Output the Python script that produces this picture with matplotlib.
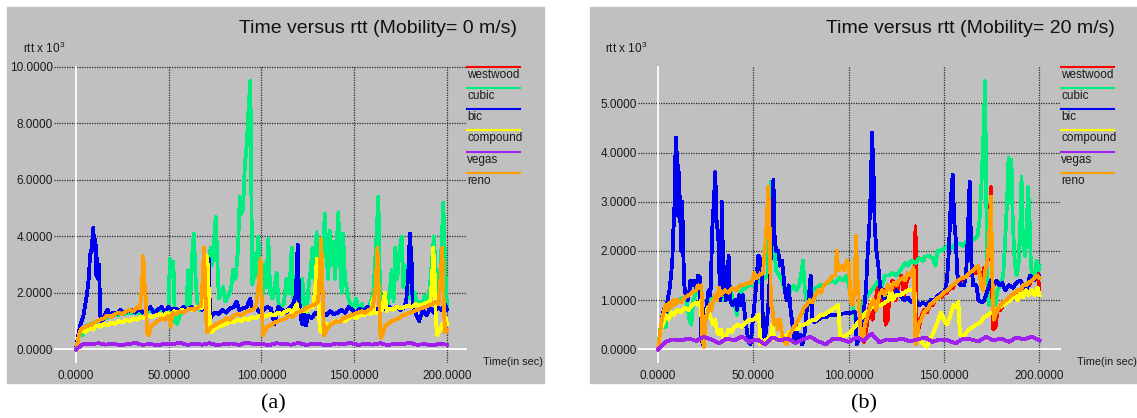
import matplotlib.pyplot as plt
from matplotlib.lines import Line2D
from matplotlib.patches import Rectangle

plt.rcParams['font.family'] = ['Liberation Sans', 'DejaVu Sans']
plt.rcParams['mathtext.fontset'] = 'custom'
plt.rcParams['mathtext.rm'] = 'Liberation Sans'

names = ['westwood', 'cubic', 'bic', 'compound', 'vegas', 'reno']
colors = ['#ff0000', '#00ee80', '#0000f0', '#ffff00', '#a020f0', '#ffa000']

# ---- panel (a): mobility 0 m/s  (time s, rtt x 10^3) ----
cubic_a = [(0, 0.0), (2, 0.6), (3.5, 0.5), (5, 0.8), (8, 0.9), (12, 1.0), (16, 1.1), (20, 1.2),
           (25, 1.25), (30, 1.3), (35, 1.3), (40, 1.35), (45, 1.4), (48, 1.4), (50, 1.3),
           (50.5, 3.2), (51.5, 2.6), (52.5, 3.1), (53.3, 1.0), (54.5, 0.9), (56, 1.2), (58, 1.4),
           (59.5, 1.5), (60.5, 2.8), (61.5, 1.6), (62.5, 3.2), (63.5, 4.1), (64.5, 2.5), (65.5, 1.6),
           (67, 1.4), (69, 1.5), (70.5, 1.4), (71.5, 2.5), (72.5, 3.6), (73.5, 3.0), (74.5, 3.8),
           (75.3, 4.7), (76, 3.5), (77, 1.8), (78.5, 2.0), (79.3, 2.2), (80.5, 1.7), (82, 1.9),
           (83.5, 2.1), (84.7, 2.8), (86, 2.5), (87.3, 3.5), (88.3, 5.4), (89.2, 4.8), (90.1, 5.0),
           (91, 6.5), (92, 7.2), (93, 8.5), (94, 9.5), (95, 2.3), (96, 2.6), (96.8, 3.4), (97.5, 2.6),
           (98.3, 4.0), (99.3, 2.5), (100.5, 1.8), (101.5, 3.0), (102.5, 2.2), (103.7, 3.9),
           (104.7, 2.0), (106, 1.8), (107, 2.2), (108.2, 2.7), (109.2, 1.6), (110.5, 1.5), (112, 1.6),
           (113.5, 2.5), (115, 2.0), (116.3, 3.6), (117.3, 1.6), (119, 1.7), (120.5, 1.5), (122, 2.5),
           (123, 1.6), (124.4, 1.3), (125.5, 2.3), (126.5, 2.8), (127.5, 3.6), (128.5, 2.5),
           (129.7, 4.15), (130.5, 3.0), (131.5, 3.6), (132.5, 2.6), (133.5, 4.0), (134.2, 4.8),
           (135, 3.3), (136, 2.5), (136.9, 4.2), (137.8, 3.0), (138.8, 3.8), (139.6, 2.5), (140.5, 3.6),
           (141.4, 4.85), (142.2, 3.3), (143.2, 2.0), (144, 4.1), (145, 2.5), (145.9, 2.2), (147, 1.8),
           (148, 1.6), (149.5, 1.5), (151, 1.8), (152.5, 1.4), (154, 1.6), (156, 1.3), (158, 1.5),
           (159.5, 1.8), (160.3, 2.0), (161.2, 3.0), (162, 4.0), (163, 5.4), (163.9, 2.0), (165, 1.8),
           (166.5, 1.5), (167.5, 1.4), (169, 2.0), (170.2, 2.8), (171.2, 1.7), (172.1, 3.6),
           (173.2, 2.5), (174.4, 3.5), (175.6, 4.0), (176.5, 2.2), (177.3, 3.0), (178.3, 2.5),
           (179.5, 1.8), (181, 2.1), (182.6, 2.0), (183.7, 1.6), (185, 1.7), (186.5, 1.5), (188, 1.9),
           (189.5, 1.6), (190.8, 2.2), (191.7, 3.0), (193, 4.0), (194, 2.5), (195, 2.8), (196, 2.0),
           (197.3, 4.0), (198, 5.2), (199, 3.0), (200, 1.5)]
bic_a = [(0, 0.0), (1.5, 0.6), (2.5, 0.9), (4, 1.2), (5, 1.6), (6, 2.0), (7, 2.6), (7.5, 3.3),
         (8.5, 3.6), (9.3, 4.3), (10, 3.5), (10.5, 3.9), (11, 2.6), (11.5, 3.2), (12, 2.5), (12.5, 3.0),
         (13, 1.2), (14, 1.0), (15.5, 1.2), (17, 1.4), (18, 1.2), (20, 1.3), (22, 1.25), (24, 1.4),
         (26, 1.3), (28, 1.35), (30, 1.4), (32, 1.3), (34, 1.45), (36, 1.3), (38, 1.4), (40, 1.5),
         (42, 1.3), (44, 1.4), (46, 1.5), (48, 1.35), (50, 1.5), (52, 1.4), (54, 1.45), (56, 1.35),
         (58, 1.5), (60, 1.4), (62, 1.5), (64, 1.45), (66, 1.5), (68, 1.4), (69.5, 1.6), (70.3, 3.3),
         (71.5, 3.2), (72.3, 1.1), (73.5, 1.2), (75, 1.3), (77, 1.25), (79, 1.4), (81, 1.3),
         (83, 1.45), (85, 1.5), (86.5, 1.7), (88, 1.4), (90, 1.45), (92, 1.5), (94, 1.8), (95, 1.4),
         (97, 1.5), (99, 1.3), (101, 1.4), (103, 1.5), (105, 1.45), (107, 0.9), (108, 1.2),
         (109, 1.5), (111, 1.4), (113, 1.3), (115, 1.45), (117, 1.6), (118.5, 1.9), (119.5, 3.7),
         (120.3, 1.8), (121, 1.2), (122, 0.9), (123, 1.3), (124, 0.85), (125, 1.2), (127, 1.1),
         (129, 1.3), (131, 1.2), (133, 1.3), (135, 1.2), (137, 1.35), (139, 1.25), (141, 1.3),
         (143, 1.4), (145, 1.3), (147, 1.5), (149, 1.4), (151, 1.3), (153, 1.45), (155, 1.35),
         (157, 1.5), (159, 1.4), (161, 1.3), (163, 1.45), (165, 1.4), (166, 1.8), (167, 1.4),
         (169, 1.5), (171, 1.4), (173, 1.5), (175, 1.4), (177, 1.5), (178, 1.7), (179, 2.5),
         (180, 4.1), (181, 3.0), (181.5, 1.5), (183, 1.3), (185, 1.0), (187, 1.4), (189, 1.2),
         (191, 1.5), (193, 1.3), (195, 1.5), (197, 1.4), (199, 1.6), (200, 1.4)]
compound_a = [(0, 0.0), (1.5, 0.5), (3, 0.7), (5, 0.6), (7, 0.75), (9, 0.7), (11, 0.85), (13, 0.8),
              (15, 0.9), (17, 0.85), (19, 0.95), (21, 0.9), (23, 1.0), (25, 0.95), (27, 1.05),
              (29, 1.0), (31, 1.1), (33, 1.05), (35, 1.15), (37, 1.1), (39, 1.2), (41, 1.15),
              (43, 1.2), (45, 1.25), (47, 1.2), (49, 1.3), (51, 1.25), (53, 1.35), (55, 1.3),
              (57, 1.4), (59, 1.35), (61, 1.45), (63, 1.4), (65, 1.5), (67, 1.45), (69, 1.5),
              (70, 1.9), (70.8, 3.3), (71.5, 2.2), (72.3, 0.7), (73, 0.6), (75, 0.75), (77, 0.8),
              (79, 0.85), (81, 0.9), (83, 1.0), (85, 0.95), (87, 1.05), (89, 1.0), (91, 1.1),
              (93, 1.05), (95, 1.15), (97, 1.1), (99, 1.2), (101, 1.15), (103, 1.2), (105, 1.25),
              (107, 1.2), (109, 1.3), (111, 1.25), (113, 1.35), (115, 1.4), (117, 1.3), (119, 1.6),
              (120, 1.3), (122, 1.4), (124, 1.35), (126, 1.5), (128, 1.5), (129, 2.2), (129.8, 3.2),
              (130.6, 2.0), (131.4, 0.7), (132.5, 0.6), (134, 0.8), (135, 0.9), (137, 0.85),
              (139, 1.0), (141, 0.95), (143, 1.05), (145, 1.0), (147, 1.1), (149, 1.2), (151, 1.1),
              (153, 1.25), (155, 1.2), (157, 1.3), (159, 1.25), (160, 1.8), (161, 1.3), (163, 1.3),
              (165, 1.4), (166.5, 2.0), (167.5, 1.35), (169, 1.45), (171, 1.4), (173, 1.5),
              (175, 1.45), (177, 1.5), (179, 1.55), (181, 1.5), (183, 1.6), (185, 1.55), (187, 1.6),
              (189, 1.65), (191, 1.7), (192, 2.6), (192.6, 3.6), (193.3, 2.8), (194, 1.0),
              (194.8, 0.5), (196, 0.7), (197.5, 0.9), (198.5, 0.7), (199.5, 1.1), (200, 0.9)]
vegas_a_t = list(range(0, 201, 4))
vegas_a = [0.0, 0.2, 0.18, 0.22, 0.17, 0.2, 0.15, 0.19, 0.23, 0.16, 0.2, 0.14, 0.21, 0.18, 0.24,
           0.16, 0.2, 0.17, 0.22, 0.15, 0.19, 0.21, 0.16, 0.25, 0.18, 0.2, 0.15, 0.22, 0.19, 0.17,
           0.23, 0.16, 0.2, 0.18, 0.14, 0.21, 0.19, 0.23, 0.16, 0.2, 0.17, 0.22, 0.15, 0.2, 0.18,
           0.24, 0.16, 0.19, 0.14, 0.2, 0.17]
reno_a = [(0, 0.0), (1, 0.3), (2, 0.6), (3, 0.75), (5, 0.8), (7, 0.85), (9, 0.9), (11, 1.0),
          (13, 1.05), (15, 1.1), (17, 1.2), (19, 1.15), (21, 1.25), (23, 1.3), (25, 1.25), (27, 1.35),
          (29, 1.4), (31, 1.35), (33, 1.5), (34.5, 1.45), (35.5, 2.2), (36.3, 3.3), (37, 2.3),
          (37.6, 1.8), (38.3, 0.6), (39.2, 0.5), (40.5, 0.8), (42, 0.9), (44, 1.0), (46, 1.1),
          (48, 1.05), (50, 1.2), (51, 0.8), (52, 1.3), (54, 1.25), (56, 1.35), (58, 1.3), (60, 1.4),
          (62, 1.45), (64, 1.4), (66, 1.5), (67.5, 1.55), (68.3, 2.5), (69, 3.6), (69.8, 2.0),
          (70.5, 0.6), (71.5, 0.65), (73, 0.8), (75, 0.85), (77, 0.95), (79, 1.0), (81, 1.1),
          (83, 1.05), (85, 1.2), (87, 1.25), (89, 1.2), (91, 1.3), (93, 1.35), (95, 1.4), (97, 1.5),
          (98.5, 2.3), (99.5, 3.2), (100.2, 1.6), (100.8, 0.5), (101.5, 0.6), (103, 0.8),
          (105, 0.85), (107, 0.95), (109, 1.0), (111, 1.05), (113, 1.1), (115, 1.2), (117, 1.15),
          (119, 1.3), (121, 1.35), (123, 1.4), (125, 1.5), (127, 1.55), (129, 1.6), (130.5, 1.7),
          (131.5, 2.8), (132.2, 3.9), (133, 2.0), (133.7, 0.5), (134.5, 0.6), (136, 0.8), (138, 0.9),
          (140, 1.0), (142, 0.95), (144, 1.1), (146, 1.15), (148, 1.2), (150, 1.25), (152, 1.3),
          (154, 1.35), (156, 1.3), (158, 1.4), (160, 1.5), (161.5, 2.2), (162.5, 3.6), (163.3, 2.0),
          (164.2, 0.4), (165.2, 0.5), (166.5, 0.8), (168, 0.9), (170, 1.0), (172, 1.05), (174, 1.1),
          (176, 1.2), (178, 1.25), (180, 1.3), (182, 1.35), (184, 1.4), (186, 1.45), (188, 1.5),
          (190, 1.55), (192, 1.6), (194, 1.7), (195.5, 1.6), (196.5, 2.5), (197.5, 3.6), (198.3, 1.5),
          (199, 0.6), (200, 0.7)]
# westwood is never visible in (a): it runs underneath the reno trace
westwood_a = list(reno_a)

# ---- panel (b): mobility 20 m/s ----
cubic_b = [(0, 0.0), (1.5, 0.5), (3, 0.6), (4, 0.45), (5, 0.8), (7, 0.9), (9, 0.95), (11, 1.0),
           (13, 1.05), (15, 1.0), (16.5, 0.6), (17.5, 0.5), (18.5, 1.0), (20, 1.15), (22, 1.2),
           (22.8, 0.5), (24, 0.4), (25.5, 0.8), (27, 1.1), (28.5, 1.0), (30, 1.05), (32, 1.1),
           (34, 1.0), (36, 1.1), (38, 1.2), (40, 0.9), (41.5, 0.7), (42.5, 1.1), (44, 1.2),
           (46, 1.25), (48, 1.3), (50, 1.3), (52, 1.35), (54, 1.4), (56, 1.45), (57.5, 1.5),
           (58.3, 2.5), (59, 3.4), (59.8, 2.2), (61, 2.0), (62, 1.6), (63.5, 1.5), (65, 1.4),
           (66.5, 1.2), (68, 1.0), (69.5, 1.2), (71, 1.3), (72.5, 1.2), (74, 1.3), (75, 1.5),
           (76, 1.8), (77, 1.2), (78, 1.0), (79.5, 1.0), (81, 1.2), (83, 1.25), (85, 1.3), (87, 1.3),
           (89, 1.35), (91, 1.4), (93, 1.35), (95, 1.45), (97, 1.4), (99, 1.5), (100.5, 1.2),
           (102, 0.9), (103.5, 0.6), (105, 0.5), (106.5, 0.8), (108, 1.0), (110, 1.1), (112, 1.2),
           (114, 1.3), (115.7, 1.4), (117.5, 1.3), (119, 1.5), (121, 1.5), (123, 1.55), (125, 1.5),
           (127, 1.6), (129.6, 1.75), (131, 1.7), (133, 1.8), (135, 1.75), (137, 1.85), (139, 1.8),
           (140, 1.88), (142, 1.9), (144, 1.85), (145.5, 1.7), (146.5, 2.0), (148, 2.0), (150, 2.05),
           (152, 2.1), (154, 2.05), (156, 2.15), (158, 2.15), (160, 2.1), (162, 2.2), (164.5, 2.2),
           (166, 2.25), (167.5, 2.3), (168.5, 2.6), (169.5, 3.3), (170.5, 4.2), (171.5, 5.45),
           (172.2, 2.8), (172.8, 1.2), (173.5, 0.9), (175, 1.0), (176.5, 0.8), (178, 1.2),
           (179.5, 1.3), (181, 1.5), (182, 2.2), (183, 3.0), (183.8, 3.9), (184.5, 3.0),
           (185.3, 3.85), (186, 2.6), (187, 1.8), (188, 1.5), (189, 1.7), (190, 2.6), (190.6, 3.5),
           (191.3, 2.2), (192.3, 1.9), (193.2, 2.2), (194, 3.3), (194.7, 2.8), (195.5, 1.7),
           (196.5, 1.4), (197.5, 1.5), (198.5, 1.8), (199.5, 1.6), (200, 1.7)]
bic_b = [(0, 0.0), (1, 0.3), (2, 0.6), (3, 0.8), (4, 0.7), (5, 1.0), (6, 1.2), (6.8, 1.5),
         (7.5, 1.8), (8, 2.4), (8.5, 2.7), (9, 3.8), (9.4, 4.3), (9.8, 3.5), (10.2, 4.0), (10.6, 2.7),
         (11, 3.6), (11.4, 2.6), (11.8, 3.1), (12.2, 2.0), (12.7, 3.0), (13.2, 2.0), (13.8, 1.3),
         (14.5, 1.1), (15.5, 1.0), (16.5, 1.2), (17, 1.4), (18, 1.3), (19, 1.4), (20, 1.2),
         (21, 1.5), (22, 1.45), (22.5, 0.3), (23.5, 0.1), (24.5, 0.5), (25.5, 0.9), (26.5, 1.2),
         (27.5, 1.1), (28.5, 2.5), (29.3, 3.0), (30, 3.6), (30.8, 2.5), (31.5, 2.4), (32.2, 1.5),
         (32.8, 1.0), (33.4, 3.0), (34, 2.0), (34.8, 1.4), (35.5, 1.0), (36.3, 1.2), (37, 1.9),
         (37.8, 1.0), (39, 0.9), (40.5, 1.0), (41.5, 0.8), (42.5, 1.1), (43.5, 0.9), (44.5, 1.1),
         (45.5, 0.7), (46.5, 0.4), (47.5, 0.15), (48.5, 0.1), (49.5, 0.5), (50.5, 0.9), (51.5, 1.3),
         (52.5, 1.9), (53.5, 1.85), (54.5, 1.5), (55, 0.4), (56, 0.2), (57, 0.5), (58, 1.0),
         (59, 1.8), (60, 2.6), (60.5, 3.45), (61.2, 2.2), (62, 2.0), (63, 2.0), (64, 1.7), (65, 1.8),
         (65.8, 1.5), (66.5, 1.2), (67.5, 1.0), (68.5, 1.3), (69.5, 0.8), (70.5, 0.5), (71.5, 0.2),
         (72.5, 0.5), (73.5, 0.2), (74.5, 0.3), (75.5, 0.1), (76.5, 0.2), (78, 0.8), (79, 1.0),
         (80, 1.5), (80.8, 0.6), (82, 0.55), (84, 0.6), (86, 0.65), (88, 0.65), (90, 0.7), (92, 0.7),
         (94, 0.7), (96, 0.72), (98, 0.73), (100, 0.73), (102, 0.75), (103.5, 0.75), (104.2, 0.1),
         (105.5, 0.2), (107, 0.3), (108, 0.8), (109, 1.2), (110, 2.0), (110.8, 2.5), (111.5, 3.2),
         (112.2, 4.4), (113, 3.6), (113.6, 2.5), (114.5, 2.0), (115.5, 1.7), (116.4, 1.3),
         (117.5, 1.1), (119, 1.0), (121, 1.1), (123, 1.0), (125, 1.2), (127, 1.1), (129, 1.0),
         (131, 1.05), (133, 0.95), (135, 1.0), (137, 0.9), (139, 0.95), (141, 0.9), (143, 1.0),
         (145, 1.0), (147, 1.1), (149, 1.15), (150.5, 1.2), (151.5, 1.4), (152.5, 2.0), (153.5, 3.0),
         (154.5, 3.55), (155.3, 2.6), (156, 2.3), (157, 1.5), (158.5, 1.3), (160.5, 1.3),
         (161.5, 1.5), (162.4, 2.3), (163.4, 3.4), (164.3, 1.8), (165.2, 1.3), (167, 1.3),
         (168, 1.0), (170, 0.95), (171, 1.0), (172.8, 1.2), (174.6, 1.4), (176, 1.3), (177.5, 1.4),
         (179, 1.3), (180.5, 1.35), (182, 1.2), (184, 1.3), (186, 1.25), (188, 1.35), (190, 1.4),
         (191.5, 1.3), (193.4, 1.2), (195, 1.5), (197, 1.4), (199, 1.5), (200, 1.5)]
compound_b = [(0, 0.0), (1.5, 0.4), (2.5, 0.5), (4, 0.7), (5.5, 0.6), (7, 0.75), (8.5, 0.7),
              (10, 0.8), (12, 0.75), (14, 0.85), (16, 0.8), (18, 0.9), (20, 0.95), (21.5, 0.9),
              (22.5, 1.0), (23, 0.3), (24, 0.4), (25, 0.6), (26, 0.85), (27, 0.7), (28, 0.6),
              (29, 0.5), (30, 0.6), (31, 0.35), (32, 0.3), (33, 0.4), (34.5, 0.2), (36, 0.3),
              (37, 0.4), (38.5, 0.35), (40, 0.45), (42, 0.5), (44, 0.45), (46, 0.55), (48, 0.6),
              (50, 0.6), (51.5, 0.65), (53, 0.7), (53.6, 0.1), (55, 0.15), (57, 0.2), (59, 0.25),
              (60, 0.5), (61, 0.2), (63, 0.2), (65, 0.3), (67, 0.25), (69, 0.35), (71, 0.4), (73, 0.4),
              (75, 0.5), (77, 0.5), (79, 0.55), (81, 0.6), (83, 0.6), (85, 0.7), (87, 0.7), (89, 0.75),
              (91, 0.8), (93, 0.85), (94.5, 0.9), (95.5, 0.25), (97, 0.25), (99, 0.3), (101, 0.35),
              (103, 0.45), (105, 0.55), (107, 0.65), (109, 0.75), (111, 0.8), (112, 1.0), (113, 0.85),
              (115, 0.9), (117, 0.9), (119, 0.95), (121, 1.0), (122, 1.3), (123, 1.0), (125, 1.1),
              (127, 1.1), (129, 1.15), (131, 1.2), (133, 1.2), (134.5, 1.2), (135.2, 0.3),
              (136.5, 0.25), (138, 0.15), (139.5, 0.1), (141, 0.05), (142.5, 0.2), (144, 0.3),
              (145.5, 0.45), (147, 0.6), (148.5, 0.75), (150, 0.6), (151.5, 0.5), (153, 0.65),
              (155, 0.9), (156.5, 0.85), (157.5, 0.96), (158.3, 0.3), (159.5, 0.25), (161, 0.3),
              (163, 0.4), (165, 0.45), (167, 0.5), (169, 0.55), (171, 0.65), (173, 0.7), (175, 0.75),
              (177, 0.8), (179, 0.85), (181, 0.9), (183, 0.95), (185, 1.0), (187, 1.1), (188.5, 1.0),
              (190, 1.15), (191.5, 1.05), (193, 1.2), (194.5, 1.1), (196, 1.2), (197.5, 1.1),
              (199, 1.25), (200, 1.1)]
vegas_b_t = list(range(0, 201, 4))
vegas_b = [0.0, 0.15, 0.2, 0.18, 0.22, 0.17, 0.25, 0.2, 0.12, 0.22, 0.18, 0.26, 0.15, 0.2, 0.1,
           0.24, 0.18, 0.22, 0.13, 0.2, 0.25, 0.16, 0.1, 0.22, 0.2, 0.15, 0.24, 0.18, 0.32, 0.14,
           0.2, 0.18, 0.22, 0.16, 0.2, 0.24, 0.15, 0.2, 0.18, 0.12, 0.22, 0.2, 0.16, 0.25, 0.18,
           0.22, 0.15, 0.24, 0.2, 0.26, 0.18]
reno_b = [(0, 0.0), (1, 0.3), (2, 0.6), (3, 0.75), (4, 0.9), (5, 0.8), (6, 0.95), (7, 0.85),
          (8, 1.0), (9, 0.9), (10, 1.0), (12, 0.95), (14, 1.05), (16, 1.1), (18, 1.15), (20, 1.2),
          (21, 1.3), (22, 1.25), (22.8, 1.3), (23.2, 0.3), (24, 0.05), (25, 0.6), (26, 0.75),
          (27, 0.9), (28, 0.8), (29, 1.0), (30, 1.1), (31, 1.0), (32, 1.25), (33, 1.1), (35, 1.2),
          (37, 1.15), (39, 1.25), (41, 1.2), (43, 1.3), (45, 1.3), (47, 1.35), (49, 1.35),
          (50.5, 1.55), (51.5, 1.45), (53, 1.5), (55, 1.55), (56, 2.0), (57, 2.6), (57.8, 3.3),
          (58.5, 2.5), (59.2, 0.9), (60, 0.8), (61, 0.5), (62, 0.6), (63, 0.4), (64, 0.6), (65, 0.3),
          (66, 0.15), (67.5, 0.1), (69, 0.3), (70.5, 0.4), (72, 0.5), (73.5, 0.6), (75, 0.7),
          (76.5, 0.85), (78, 0.9), (79.5, 1.0), (81, 0.95), (82.5, 1.1), (84, 1.2), (85.5, 1.15),
          (87, 1.3), (88.5, 1.35), (90, 1.4), (91.5, 1.5), (93, 1.5), (93.7, 2.0), (94.5, 1.6),
          (96, 1.7), (97.5, 1.6), (99, 1.8), (100, 1.75), (101, 1.0), (102, 0.9), (103, 1.2),
          (103.8, 2.3), (104.5, 1.5), (105.5, 0.8), (106.5, 0.3), (107.5, 0.2), (108.5, 0.5),
          (110, 0.7), (111.5, 0.9), (113, 1.0), (114.5, 0.8), (116, 1.1), (117.5, 1.2), (119, 1.1),
          (120.5, 1.3), (122, 1.2), (123.5, 1.35), (125, 1.3), (126.5, 1.4), (128, 1.45),
          (129.5, 1.4), (131, 1.55), (132.5, 1.5), (134, 1.65), (134.8, 0.3), (135.5, 0.1),
          (136.5, 0.5), (138, 0.6), (139.5, 0.75), (141, 0.8), (142.5, 0.9), (144, 0.95),
          (145.5, 1.0), (147, 1.05), (148.5, 1.1), (150, 1.15), (151.5, 1.2), (153, 1.25),
          (154.5, 1.3), (156, 1.35), (157.5, 1.4), (159, 1.45), (160.5, 1.45), (162, 1.5),
          (163.5, 1.55), (165, 1.6), (166.5, 1.65), (168, 1.7), (169.5, 1.3), (170.5, 1.2),
          (171.5, 1.6), (172.5, 1.7), (173.5, 2.2), (174.6, 3.1), (175.3, 1.5), (176, 0.6),
          (177, 0.7), (178, 0.8), (179.5, 0.9), (181, 0.95), (182.5, 1.0), (184, 1.05),
          (185.5, 1.1), (187, 1.15), (188.5, 1.2), (190, 1.2), (191.5, 1.3), (193, 1.3),
          (194.5, 1.35), (196, 1.4), (197.5, 1.45), (199, 1.5), (200, 1.45)]
# westwood hides under reno until ~100 s, then shows on its own
westwood_b_late = [(101, 1.0), (102, 0.9), (103, 1.2), (103.8, 2.2), (104.5, 1.5), (105.5, 0.8),
                   (106.5, 0.3), (108, 0.15), (109.5, 0.5), (111, 0.9), (112.5, 0.6), (114, 1.0),
                   (115.5, 1.3), (117, 0.9), (118.5, 1.2), (119.3, 0.5), (120.5, 0.6), (121.5, 1.2),
                   (123, 1.4), (124.5, 1.0), (126, 1.3), (127.5, 1.5), (129, 1.1), (130.5, 1.4),
                   (132, 1.5), (133.5, 1.6), (134.5, 1.5), (135, 2.5), (135.6, 0.6), (136.5, 0.4),
                   (138, 0.65), (139.5, 0.8), (141, 0.75), (142.5, 0.9), (144, 0.9), (145.5, 1.0),
                   (147, 1.05), (148.5, 1.05), (150, 1.15), (151.5, 1.15), (153, 1.25), (154.5, 1.25),
                   (156, 1.35), (157.5, 1.35), (159, 1.45), (160.5, 1.4), (162, 1.55), (163.5, 1.5),
                   (165, 1.6), (166.5, 1.55), (168, 1.65), (169.5, 1.4), (171, 1.65), (172.5, 1.6),
                   (173.8, 2.4), (174.6, 3.3), (175.2, 1.2), (175.8, 0.4), (177, 0.45), (178, 0.8),
                   (179.5, 0.8), (181, 0.9), (182.5, 0.95), (184, 1.0), (185.5, 1.1), (187, 1.1),
                   (188.5, 1.15), (190, 1.2), (191.5, 1.25), (193, 1.3), (194.5, 1.3), (196, 1.4),
                   (197.5, 1.4), (199, 1.55), (200, 1.2)]
westwood_b = [p for p in reno_b if p[0] <= 100] + westwood_b_late

x_ticks = [0, 50, 100, 150, 200]
y_ticks_a = [0, 2, 4, 6, 8, 10]
y_ticks_b = [0, 1, 2, 3, 4, 5]

W, H = 1137, 418
fig = plt.figure(figsize=(W / 100, H / 100), dpi=100)
fig.patch.set_facecolor('white')


def fx(p):
    return p / W


def fy(p):
    return 1 - p / H


def draw_panel(gray, box, xlim, ylim, yticks, series, title, title_right, ylab_x,
               legend_x, xlab_x, caption, caption_x):
    g0, g1, g2, g3 = gray
    fig.add_artist(Rectangle((fx(g0), fy(g3)), fx(g2 - g0), (g3 - g1) / H,
                             transform=fig.transFigure, color='#c0c0c0', zorder=-1))
    left, top, right, bottom = box
    ax = fig.add_axes([fx(left), fy(bottom), fx(right - left), (bottom - top) / H])
    ax.patch.set_visible(False)
    for s in ax.spines.values():
        s.set_visible(False)
    ax.set_xlim(*xlim)
    ax.set_ylim(*ylim)
    ax.set_xticks(x_ticks, [f'{v:.4f}' for v in x_ticks])
    ax.set_yticks(yticks, [f'{v:.4f}' for v in yticks])
    ax.tick_params(axis='both', length=0, labelsize=8.5, labelcolor='#1a1a1a')
    ax.tick_params(axis='y', pad=1)
    ax.tick_params(axis='x', pad=5)

    dots = (0, (1, 1))
    for v in yticks[1:]:
        ax.axhline(v, color='#2a2a2a', lw=0.9, ls=dots, zorder=1)
    for t in x_ticks[1:]:
        ax.axvline(t, color='#2a2a2a', lw=0.9, ls=dots, zorder=1)
    ax.axhline(0, color='white', lw=1.3, zorder=1)
    ax.axvline(0, color='white', lw=1.3, zorder=1)

    # reno drawn above compound, vegas on top
    for z, i in enumerate([0, 1, 2, 3, 5, 4]):
        tt, vv = series[i]
        ax.plot(tt, vv, color=colors[i], lw=2.0, zorder=2 + z, antialiased=False)

    fig.text(fx(title_right), fy(28.7), title, ha='right', va='center', fontsize=14,
             color='#111111')
    fig.text(fx(ylab_x), fy(48), r'rtt x 10$^3$', ha='left', va='center', fontsize=8.5,
             color='#1a1a1a')
    fig.text(fx(xlab_x), fy(362), 'Time(in sec)', ha='left', va='center', fontsize=7.8,
             color='#1a1a1a')
    for i, name in enumerate(names):
        y = 66.7 + i * 21.2
        fig.add_artist(Line2D([fx(legend_x), fx(legend_x + 53)], [fy(y), fy(y)],
                              color=colors[i], lw=1.5))
        fig.text(fx(legend_x), fy(y + 8), name, ha='left', va='center', fontsize=8.5,
                 color='#1a1a1a')
    fig.text(fx(caption_x), fy(404), caption, ha='center', va='center', fontsize=16,
             family='Liberation Serif', color='black')


def split(pairs):
    return [p[0] for p in pairs], [p[1] for p in pairs]


series_a = [split(westwood_a), split(cubic_a), split(bic_a), split(compound_a),
            (vegas_a_t, vegas_a), split(reno_a)]
series_b = [split(westwood_b), split(cubic_b), split(bic_b), split(compound_b),
            (vegas_b_t, vegas_b), split(reno_b)]

draw_panel((7, 7, 544, 383), (54, 66, 467, 363), (-11.86, 210.8), (-0.48, 10.03), y_ticks_a,
           series_a, 'Time versus rtt (Mobility= 0 m/s)', 517, 23, 467, 483, '(a)', 273)
draw_panel((590, 7, 1137, 383), (638, 66, 1061, 363), (-10.5, 211.3), (-0.28, 5.76), y_ticks_b,
           series_b, 'Time versus rtt (Mobility= 20 m/s)', 1115, 605, 1061, 1077, '(b)', 864)

fig.savefig('out.png', dpi=100)
